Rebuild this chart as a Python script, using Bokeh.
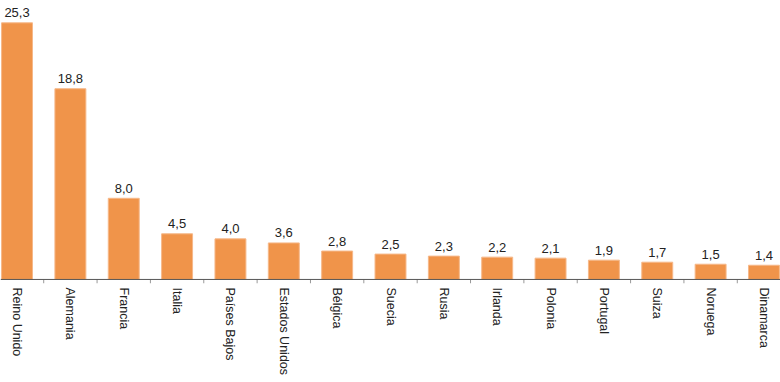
from bokeh.plotting import figure
from bokeh.models import FactorRange, Range1d, ColumnDataSource, Span, Label, BoxAnnotation
from bokeh.transform import dodge
from bokeh.core.properties import value
from bokeh.embed import file_html
from bokeh.resources import INLINE
import math

countries = ["Reino Unido", "Alemania", "Francia", "Italia", "Países Bajos",
             "Estados Unidos", "Bélgica", "Suecia", "Rusia", "Irlanda",
             "Polonia", "Portugal", "Suiza", "Noruega", "Dinamarca"]
values = [25.3, 18.8, 8.0, 4.5, 4.0, 3.6, 2.8, 2.5, 2.3, 2.2, 2.1, 1.9, 1.7, 1.5, 1.4]
value_labels = ["25,3", "18,8", "8,0", "4,5", "4,0", "3,6", "2,8", "2,5", "2,3",
                "2,2", "2,1", "1,9", "1,7", "1,5", "1,4"]
highlighted = "Dinamarca"

FONT = value("Liberation Sans")

src = ColumnDataSource(dict(cat=countries, val=values, lbl=value_labels))
tick_src = ColumnDataSource(dict(cat=countries[1:]))

x_range = FactorRange(factors=countries, range_padding=-0.19, range_padding_units="absolute")
p = figure(x_range=x_range, y_range=Range1d(-0.4, 27.5),
           frame_width=780, frame_height=283, output_backend="svg", toolbar_location=None,
           min_border_left=0, min_border_right=0, min_border_top=0, min_border_bottom=0)
p.outline_line_color = None
p.grid.visible = False
p.yaxis.visible = False
p.background_fill_color = "white"
p.border_fill_color = "white"

p.vbar(x="cat", top="val", width=0.58, source=src,
       fill_color="#F0944A", line_color="#F6B889", line_width=1)

p.text(x="cat", y="val", text="lbl", source=src, text_align="center",
       text_baseline="alphabetic", y_offset=-10, text_font=FONT,
       text_font_size="13px", text_color="#222222")

p.add_layout(Span(location=0, dimension="width", line_color="#555555", line_width=1))
p.segment(x0=dodge("cat", -0.5, range=p.x_range), y0=0,
          x1=dodge("cat", -0.5, range=p.x_range), y1=-0.4,
          source=tick_src, line_color="#999999", line_width=1)

ax = p.xaxis[0]
ax.axis_line_color = None
ax.major_tick_line_color = None
ax.minor_tick_line_color = None
ax.major_tick_out = 0
ax.major_tick_in = 0
ax.major_label_orientation = "vertical"
ax.major_label_standoff = 4
ax.major_label_text_font = "Liberation Sans"
ax.major_label_text_font_size = "12.5px"
ax.major_label_text_color = "#222222"
ax.major_label_overrides = {highlighted: " "}

# selection-like highlight box behind the last category label
box = BoxAnnotation(left=758.5, right=772.5, left_units="screen", right_units="screen",
                    top=-0.76, bottom=-6.2, fill_color="#A9C9EA", fill_alpha=1.0,
                    line_color=None)
p.add_layout(box)

hl = Label(x=765, x_units="screen", y=-0.8, text=highlighted, angle=math.pi / 2,
           text_align="right", text_baseline="middle", text_color="#222222",
           text_font="Liberation Sans", text_font_size="12.5px")
p.add_layout(hl)

open("out.html", "w").write(file_html(p, INLINE))
